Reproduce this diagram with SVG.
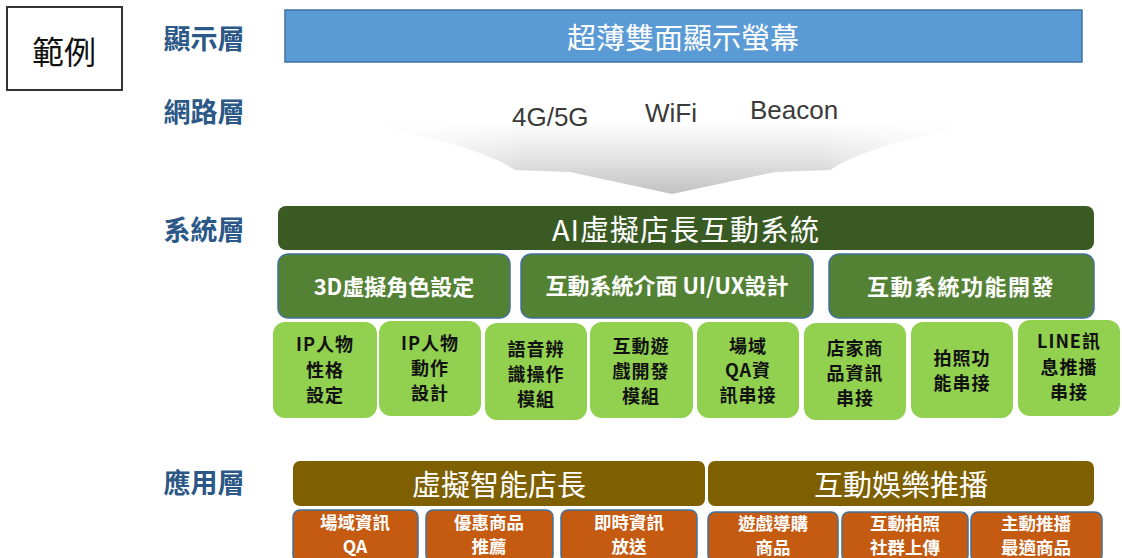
<svg xmlns="http://www.w3.org/2000/svg" width="1122" height="558" viewBox="0 0 1122 558">
<defs>
<linearGradient id="arrowGrad" x1="0" y1="0" x2="0" y2="1">
<stop offset="0" stop-color="#ffffff"/>
<stop offset="0.5" stop-color="#e4e4e4"/>
<stop offset="1" stop-color="#c2c2c2"/>
</linearGradient>
<linearGradient id="arrowFade" x1="0" y1="0" x2="1" y2="0">
<stop offset="0" stop-color="#ffffff" stop-opacity="0.9"/>
<stop offset="0.25" stop-color="#ffffff" stop-opacity="0"/>
<stop offset="0.75" stop-color="#ffffff" stop-opacity="0"/>
<stop offset="1" stop-color="#ffffff" stop-opacity="0.9"/>
</linearGradient>
</defs>
<style>
text{font-family:"Noto Sans CJK TC","Noto Sans CJK SC",sans-serif;text-anchor:middle;dominant-baseline:central}
.layer{font-size:27px;font-weight:bold;fill:#2B5886}
.latin{font-family:"Liberation Sans",Arial,sans-serif;font-size:26px;fill:#3a3a3a;text-anchor:start;dominant-baseline:alphabetic}
.wt{fill:#ffffff}
.bk{fill:#111111}
.blue{fill:#5B9BD5;stroke:#41719C;stroke-width:1.5}
.dg{fill:#3A5A24}
.mg{fill:#548235;stroke:#41719C;stroke-width:1.5}
.lg{fill:#92D050}
.br{fill:#7F6000}
.or{fill:#C55A11;stroke:#41719C;stroke-width:1.5}
.mid{font-size:22px;font-weight:bold}
.sm{font-size:18px;font-weight:bold;letter-spacing:1px}
.os{font-size:17.5px;font-weight:bold}
.big{font-size:29px}
</style>

<g id="legend">
<rect x="7" y="7" width="115" height="83" fill="#ffffff" stroke="#333333" stroke-width="2"/>
<text x="64" y="50" font-size="32" fill="#111111">範例</text>
</g>

<g id="labels">
<text class="layer" x="204" y="37">顯示層</text>
<text class="layer" x="204" y="110">網路層</text>
<text class="layer" x="204" y="228">系統層</text>
<text class="layer" x="204" y="481">應用層</text>
</g>

<g id="display">
<rect class="blue" x="285" y="10" width="797" height="52"/>
<text class="wt big" x="683" y="36">超薄雙面顯示螢幕</text>
</g>

<g id="connectors">
<g id="network-arrow">
<path d="M383,127 Q672,115 960,127 Q862,148 830,170 L775,172 L672,194 L570,172 L515,170 Q483,148 383,127 Z" fill="url(#arrowGrad)"/>
<path d="M383,127 Q672,115 960,127 Q862,148 830,170 L775,172 L672,194 L570,172 L515,170 Q483,148 383,127 Z" fill="url(#arrowFade)"/>
</g>
</g>

<g id="network">
<text class="latin" x="512" y="126">4G/5G</text>
<text class="latin" x="645" y="122">WiFi</text>
<text class="latin" x="750" y="119">Beacon</text>
</g>

<g id="ai-system">
<rect class="dg" x="278" y="206" width="816" height="44" rx="8"/>
<text class="wt big" x="686" y="228" letter-spacing="1">AI虛擬店長互動系統</text>
</g>

<g id="sys-3d">
<rect class="mg" x="278" y="254" width="232" height="64" rx="10"/>
<text class="wt mid" x="394" y="285">3D虛擬角色設定</text>
</g>
<g id="sys-ui">
<rect class="mg" x="521" y="254" width="292" height="64" rx="10"/>
<text class="wt mid" x="667" y="284">互動系統介面 UI/UX設計</text>
</g>
<g id="sys-func">
<rect class="mg" x="829" y="254" width="265" height="64" rx="10"/>
<text class="wt mid" x="961" y="285" letter-spacing="1.5">互動系統功能開發</text>
</g>

<g id="m1">
<rect class="lg" x="273" y="322" width="104" height="96" rx="12"/>
<text class="bk sm" x="325" y="343">IP人物</text>
<text class="bk sm" x="325" y="369">性格</text>
<text class="bk sm" x="325" y="394">設定</text>
</g>
<g id="m2">
<rect class="lg" x="379" y="321" width="102" height="95" rx="12"/>
<text class="bk sm" x="430" y="342">IP人物</text>
<text class="bk sm" x="430" y="367">動作</text>
<text class="bk sm" x="430" y="392">設計</text>
</g>
<g id="m3">
<rect class="lg" x="485" y="323" width="102" height="97" rx="12"/>
<text class="bk sm" x="536" y="348">語音辨</text>
<text class="bk sm" x="536" y="373">識操作</text>
<text class="bk sm" x="536" y="398">模組</text>
</g>
<g id="m4">
<rect class="lg" x="590" y="322" width="103" height="96" rx="12"/>
<text class="bk sm" x="641" y="345">互動遊</text>
<text class="bk sm" x="641" y="370">戲開發</text>
<text class="bk sm" x="641" y="395">模組</text>
</g>
<g id="m5">
<rect class="lg" x="697" y="322" width="102" height="96" rx="12"/>
<text class="bk sm" x="748" y="345">場域</text>
<text class="bk sm" x="748" y="369">QA資</text>
<text class="bk sm" x="748" y="394">訊串接</text>
</g>
<g id="m6">
<rect class="lg" x="804" y="323" width="102" height="97" rx="12"/>
<text class="bk sm" x="855" y="347">店家商</text>
<text class="bk sm" x="855" y="372">品資訊</text>
<text class="bk sm" x="855" y="397">串接</text>
</g>
<g id="m7">
<rect class="lg" x="911" y="322" width="102" height="96" rx="12"/>
<text class="bk sm" x="962" y="357">拍照功</text>
<text class="bk sm" x="962" y="382">能串接</text>
</g>
<g id="m8">
<rect class="lg" x="1018" y="320" width="102" height="96" rx="12"/>
<text class="bk sm" x="1069" y="340">LINE訊</text>
<text class="bk sm" x="1069" y="366">息推播</text>
<text class="bk sm" x="1069" y="391">串接</text>
</g>

<g id="app-manager">
<rect class="br" x="293" y="461" width="412" height="45" rx="7"/>
<text class="wt big" x="499" y="483">虛擬智能店長</text>
</g>
<g id="app-entertain">
<rect class="br" x="708" y="461" width="386" height="45" rx="7"/>
<text class="wt big" x="901" y="483">互動娛樂推播</text>
</g>

<g id="a1">
<rect class="or" x="293" y="510" width="125" height="52" rx="7"/>
<text class="wt os" x="355" y="521">場域資訊</text>
<text class="wt os" x="355" y="545" font-family="Liberation Sans,sans-serif">QA</text>
</g>
<g id="a2">
<rect class="or" x="426" y="510" width="127" height="52" rx="7"/>
<text class="wt os" x="489" y="521">優惠商品</text>
<text class="wt os" x="489" y="545">推薦</text>
</g>
<g id="a3">
<rect class="or" x="561" y="510" width="136" height="52" rx="7"/>
<text class="wt os" x="629" y="521">即時資訊</text>
<text class="wt os" x="629" y="545">放送</text>
</g>
<g id="a4">
<rect class="or" x="708" y="512" width="130" height="50" rx="7"/>
<text class="wt os" x="773" y="522">遊戲導購</text>
<text class="wt os" x="773" y="546">商品</text>
</g>
<g id="a5">
<rect class="or" x="842" y="512" width="126" height="50" rx="7"/>
<text class="wt os" x="905" y="522">互動拍照</text>
<text class="wt os" x="905" y="546">社群上傳</text>
</g>
<g id="a6">
<rect class="or" x="971" y="512" width="131" height="50" rx="7"/>
<text class="wt os" x="1036" y="522">主動推播</text>
<text class="wt os" x="1036" y="546">最適商品</text>
</g>
</svg>
